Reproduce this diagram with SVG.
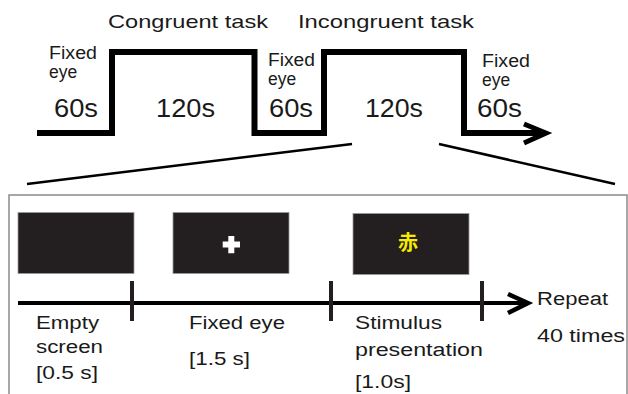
<svg xmlns="http://www.w3.org/2000/svg" width="628" height="394" viewBox="0 0 628 394">
<style>
.t{font-family:"Liberation Sans","Noto Sans",Arial,sans-serif;fill:#1a1a1a}
.big{font-size:26px}
.mid{font-size:19px}
.fx{font-size:17.5px}
.sm{font-size:18px}
.ln{fill:none;stroke:#000;stroke-linecap:butt;stroke-linejoin:miter}
.scr{fill:#231f20;stroke:#9a9a9a;stroke-width:0.8}
.tick{stroke:#231f20;stroke-width:4}
</style>
<rect width="628" height="394" fill="#fff"/>
<g id="connectors">
  <polyline class="ln" stroke-width="6" points="37,133 112,133 112,52 254.5,52 254.5,133 324,133 324,52 464,52 464,133 545,133"/>
  <polyline class="ln" stroke-width="5" points="524,124 546,133 524,143"/>
  <line class="ln" stroke-width="2.5" x1="27" y1="184" x2="352" y2="144"/>
  <line class="ln" stroke-width="2.5" x1="439" y1="144" x2="615" y2="184"/>
  <line class="ln" stroke-width="4" x1="18" y1="303" x2="527" y2="303"/>
  <polyline class="ln" stroke-width="4.5" points="508,294 528,303 508,313"/>
  <line class="tick" x1="132" y1="281" x2="132" y2="321"/>
  <line class="tick" x1="331" y1="281" x2="331" y2="321"/>
  <line class="tick" x1="482" y1="281" x2="482" y2="321"/>
</g>
<g id="block-labels">
  <text class="t mid" x="108" y="28" textLength="160" lengthAdjust="spacingAndGlyphs">Congruent task</text>
  <text class="t mid" x="298" y="28" textLength="176" lengthAdjust="spacingAndGlyphs">Incongruent task</text>
  <text class="t fx" x="49" y="59" textLength="48" lengthAdjust="spacingAndGlyphs">Fixed</text>
  <text class="t fx" x="49" y="78">eye</text>
  <text class="t big" x="54" y="117" textLength="44" lengthAdjust="spacingAndGlyphs">60s</text>
  <text class="t big" x="156" y="117" textLength="59" lengthAdjust="spacingAndGlyphs">120s</text>
  <text class="t fx" x="268" y="66" textLength="47" lengthAdjust="spacingAndGlyphs">Fixed</text>
  <text class="t fx" x="268" y="85">eye</text>
  <text class="t big" x="269" y="117" textLength="44" lengthAdjust="spacingAndGlyphs">60s</text>
  <text class="t big" x="365" y="117" textLength="58" lengthAdjust="spacingAndGlyphs">120s</text>
  <text class="t fx" x="482" y="67" textLength="48" lengthAdjust="spacingAndGlyphs">Fixed</text>
  <text class="t fx" x="482" y="86">eye</text>
  <text class="t big" x="477" y="117" textLength="45" lengthAdjust="spacingAndGlyphs">60s</text>
</g>
<g id="trial-box">
  <rect x="9" y="195" width="618" height="215" fill="none" stroke="#8a8a8a" stroke-width="1.5"/>
</g>
<g id="empty-screen">
  <rect class="scr" x="18" y="212.5" width="116" height="61"/>
  <text class="t sm" x="36" y="329" textLength="63" lengthAdjust="spacingAndGlyphs">Empty</text>
  <text class="t sm" x="36" y="353" textLength="67" lengthAdjust="spacingAndGlyphs">screen</text>
  <text class="t sm" x="36" y="379" textLength="62" lengthAdjust="spacingAndGlyphs">[0.5 s]</text>
</g>
<g id="fixed-eye">
  <rect class="scr" x="173" y="212.5" width="116" height="61"/>
  <path d="M228.3,236 h6 v5.5 h5.7 v6 h-5.7 v5.8 h-6 v-5.8 h-5.6 v-6 h5.6 z" fill="#fff"/>
  <text class="t sm" x="189" y="329" textLength="96" lengthAdjust="spacingAndGlyphs">Fixed eye</text>
  <text class="t sm" x="189" y="365" textLength="61" lengthAdjust="spacingAndGlyphs">[1.5 s]</text>
</g>
<g id="stimulus">
  <rect class="scr" x="353" y="213.5" width="116" height="61"/>
  <text x="408" y="250" text-anchor="middle" font-family="'Noto Sans CJK JP','Noto Sans CJK SC',sans-serif" font-size="20" font-weight="bold" fill="#f7ec00">赤</text>
  <text class="t sm" x="355" y="329" textLength="87" lengthAdjust="spacingAndGlyphs">Stimulus</text>
  <text class="t sm" x="355" y="356" textLength="128" lengthAdjust="spacingAndGlyphs">presentation</text>
  <text class="t sm" x="355" y="388" textLength="56" lengthAdjust="spacingAndGlyphs">[1.0s]</text>
</g>
<g id="repeat">
  <text class="t sm" x="537" y="305" textLength="71" lengthAdjust="spacingAndGlyphs">Repeat</text>
  <text class="t sm" x="537" y="342" textLength="88" lengthAdjust="spacingAndGlyphs">40 times</text>
</g>
</svg>
